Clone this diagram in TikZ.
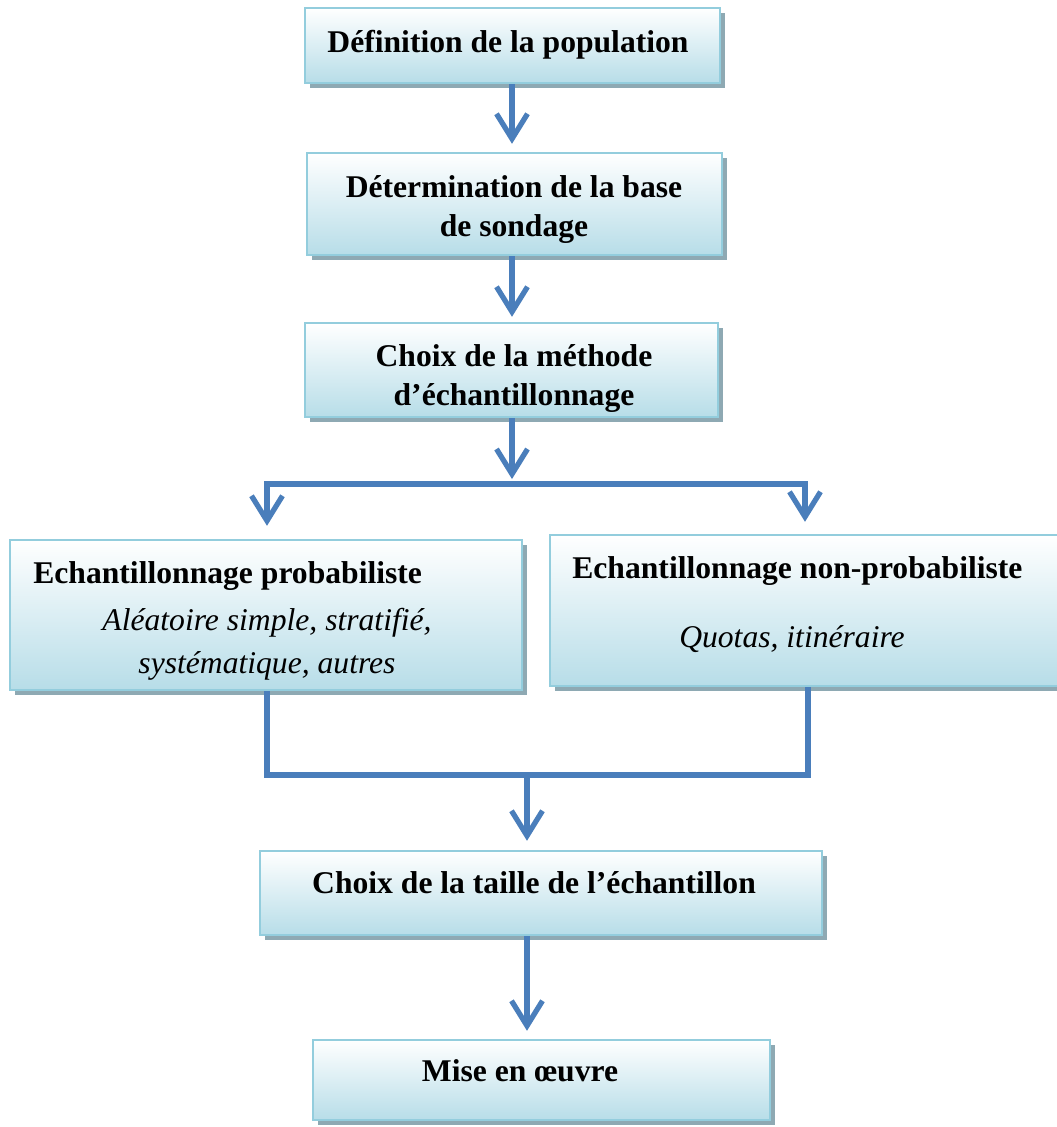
\documentclass[tikz,border=0pt]{standalone}
\usepackage{fontspec}
\setmainfont{Liberation Serif}
\usetikzlibrary{arrows.meta,shadows,fit}
\definecolor{flowblue}{HTML}{4A7EBB}
\definecolor{boxedge}{HTML}{93CDDD}
\definecolor{boxfill}{HTML}{B7DDE8}
\definecolor{boxshade}{HTML}{8EA9B3}
\tikzset{
  stepbox/.style={rectangle, inner sep=0pt, draw=boxedge, line width=1.4pt,
    top color=white, bottom color=boxfill,
    drop shadow={shadow xshift=0.1cm, shadow yshift=-0.1cm, fill=boxshade, opacity=1}},
  flow/.style={draw=flowblue, line width=3pt},
  arr/.style={flow, -{Straight Barb[length=0.5cm,width=0.62cm]}},
  heading/.style={font=\fontsize{18}{22}\selectfont\bfseries, inner sep=0pt, anchor=base},
  detail/.style={font=\fontsize{18}{22}\selectfont\itshape, inner sep=0pt, anchor=base},
}
\begin{document}
\begin{tikzpicture}[x=0.02cm, y=-0.02cm]
\useasboundingbox (0,0) rectangle (1057,1127);

% process boxes
\node[stepbox, fit={(305,8) (720,83)}] (b1) {};
\node[stepbox, fit={(307,153) (722,255)}] (b2) {};
\node[stepbox, fit={(305,323) (718,417)}] (b3) {};
\node[stepbox, fit={(10,540) (522,690)}] (bL) {};
\node[stepbox, fit={(550,535) (1075,686)}] (bR) {};
\node[stepbox, fit={(260,851) (822,935)}] (b6) {};
\node[stepbox, fit={(313,1040) (770,1120)}] (b7) {};

% box texts
\node[heading] (t1) at (508,52) {Définition de la population};
\node[heading] (t2a) at (514,197) {Détermination de la base};
\node[heading] (t2b) at (514,236) {de sondage};
\node[heading] (t3a) at (514,366) {Choix de la méthode};
\node[heading] (t3b) at (514,405) {d’échantillonnage};
\node[heading, anchor=base west] (tLa) at (33,583) {Echantillonnage probabiliste};
\node[detail] (tLb) at (267,630) {Aléatoire simple, stratifié,};
\node[detail] (tLc) at (267,673) {systématique, autres};
\node[heading, anchor=base west] (tRa) at (572,578) {Echantillonnage non-probabiliste};
\node[detail] (tRb) at (792,647) {Quotas, itinéraire};
\node[heading] (t6) at (534,893) {Choix de la taille de l’échantillon};
\node[heading] (t7) at (520,1081) {Mise en œuvre};

% connector points
\coordinate (spine) at (512,0);
\coordinate (split) at (512,484);
\coordinate (lft) at (267,484);
\coordinate (rgt) at (805,484);
\coordinate (mergeR) at (808,0);
\coordinate (join) at (527,775);

% connectors
\draw[arr, shorten >=0.16cm] (b1.south -| spine) -- (b2.north -| spine);
\draw[arr, shorten >=0.1cm] (b2.south -| spine) -- (b3.north -| spine);
\draw[arr, shorten >=0.1cm] (b3.south -| spine) -- (split);
\draw[flow, line cap=rect] (lft) -- (rgt);
\draw[arr, shorten >=0.26cm] (lft) -- (bL.north -| lft);
\draw[arr, shorten >=0.24cm] (rgt) -- (bR.north -| rgt);
\draw[flow, line join=miter] (bL.south -| lft) -- (lft |- join) -| (bR.south -| mergeR);
\draw[arr, shorten >=0.18cm] (join) -- (b6.north -| join);
\draw[arr, shorten >=0.16cm] (b6.south -| join) -- (b7.north -| join);
\end{tikzpicture}
\end{document}
